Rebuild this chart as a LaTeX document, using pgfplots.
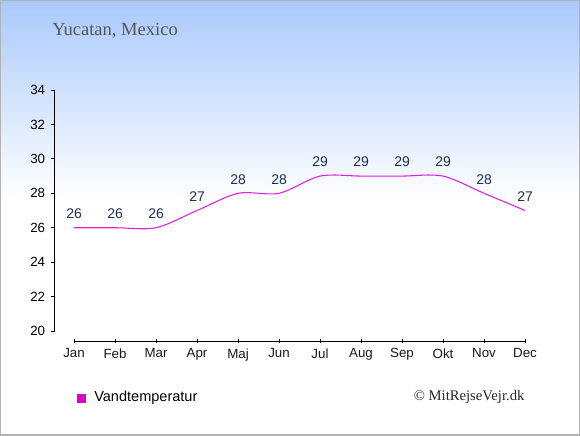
\documentclass[border=0pt]{standalone}
\usepackage{pgfplots}
\pgfplotsset{compat=1.18}
\usepackage{fontspec}
\setmainfont{Liberation Serif}
\setsansfont{Liberation Sans}
\definecolor{bgtop}{HTML}{A9C9FC}
\definecolor{linec}{HTML}{E020DD}
\definecolor{legc}{HTML}{DD00CC}
\definecolor{lblc}{HTML}{1F3050}
\definecolor{titc}{HTML}{555555}
\begin{document}
\begin{tikzpicture}
\fill[white] (0,0) rectangle (435pt,-326.25pt);
\shade[top color=bgtop, bottom color=white] (0,0) rectangle (435pt,-150pt);
\begin{axis}[
  at={(40.9pt,-248.25pt)}, anchor=south west,
  scale only axis, width=352.9pt, height=180.75pt,
  xmin=-0.476, xmax=11, ymin=20, ymax=34,
  axis x line=none, axis y line=left,
  axis line style={-, black, line width=0.75pt},
  ytick={20,22,...,34},
  tick align=outside, major tick length=2.5pt,
  tick style={black, line width=0.75pt},
  yticklabel style={font=\sffamily\fontsize{10}{12}\selectfont, black, xshift=-1pt},
  /pgf/number format/assume math mode=true,
  clip=false,
]
\addplot[linec, line width=0.8pt, smooth,
  nodes near coords, point meta=explicit symbolic,
  every node near coord/.append style={font=\sffamily\fontsize{10.5}{12}\selectfont, text=lblc, anchor=center, yshift=10.5pt}]
  coordinates {(0,26)[26] (1,26)[26] (2,26)[26] (3,27)[27] (4,28)[28] (5,28)[28]
               (6,29)[29] (7,29)[29] (8,29)[29] (9,29)[29] (10,28)[28] (11,27)[27]};
\end{axis}
\begin{axis}[
  at={(55.5pt,-255.75pt)}, anchor=south west,
  scale only axis, width=338.25pt, height=10pt,
  xmin=0, xmax=11, ymin=0, ymax=1,
  axis y line=none, axis x line=bottom,
  axis line style={-, black, line width=0.75pt},
  xtick={0,...,11},
  xticklabels={Jan,Feb,Mar,Apr,Maj,Jun,Jul,Aug,Sep,Okt,Nov,Dec},
  tick align=center, major tick length=3pt,
  tick style={black, line width=0.75pt},
  xticklabel style={font=\sffamily\fontsize{10}{12}\selectfont, text=black!90, yshift=-0.5pt},
]
\end{axis}
\node[anchor=west, font=\fontsize{13.9}{15}\selectfont, text=titc, inner sep=0] at (39pt,-23.25pt) {Yucatan, Mexico};
\fill[legc] (57.5pt,-295.5pt) rectangle (64.5pt,-302.5pt);
\node[anchor=west, font=\sffamily\fontsize{10.9}{12}\selectfont, text=black, inner sep=0] at (70.5pt,-298.5pt) {Vandtemperatur};
\node[anchor=east, font=\fontsize{11}{12}\selectfont, text=black!85, inner sep=0] at (393.5pt,-297.75pt) {© MitRejseVejr.dk};
\draw[color=black!30, line width=1.5pt] (0,0) rectangle (435pt,-326.25pt);
\pgfresetboundingbox
\useasboundingbox (0,0) rectangle (435pt,-326.25pt);
\end{tikzpicture}
\end{document}
